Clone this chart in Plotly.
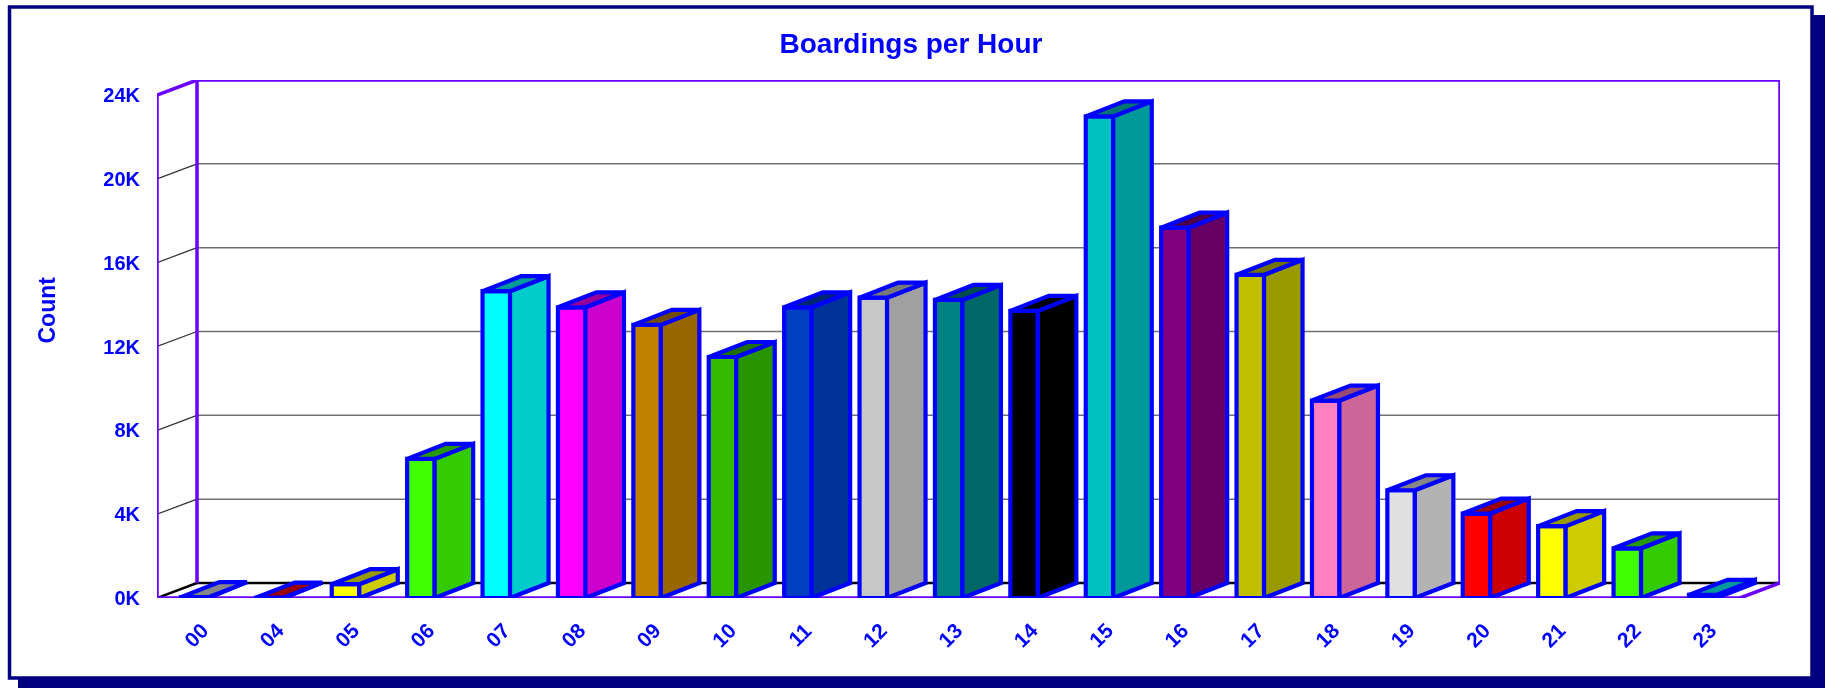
import plotly.graph_objects as go

hours = ["00","04","05","06","07","08","09","10","11","12","13","14","15","16","17","18","19","20","21","22","23"]
counts = [40, 20, 660, 6640, 14640, 13870, 13030, 11500, 13870, 14330, 14220, 13700, 22980, 17670, 15420, 9420, 5140, 4030, 3430, 2370, 150]
front_colors = ["#e0e0e0","#ff0000","#ffff00","#40ff00","#00ffff","#ff00ff","#c08000","#33bb00","#0040c0","#c8c8c8",
                "#008080","#000000","#00c0c0","#800080","#c0c000","#ff80c0","#e0e0e0","#ff0000","#ffff00","#40ff00","#00ffff"]
y_ticks = [0, 4000, 8000, 12000, 16000, 20000, 24000]
y_labels = ["0K", "4K", "8K", "12K", "16K", "20K", "24K"]

W, H = 1825, 688
L, R, T, B = 157, 1780, 80, 598          # plot area in px
BAND = 75.4                              # px per category
DX_PX, DY_PX = 40, 15                    # depth of the 3D box
PX_PER_UNIT = 503 / 24000
DX = DX_PX / BAND
DY = DY_PX / PX_PER_UNIT
X0 = -0.5
X_END = X0 + (R - L) / BAND
Y_END = 24000 + DY
BAR_W = 27.5 / BAND
BAR_DX = 38.5 / BAND
BAR_OFF = 0.0
EDGE = 4.2
BLUE = "#0000ff"
PURPLE = "#6a00ff"
NAVY = "#000080"


def shade(c, f):
    r, g, b = int(c[1:3], 16), int(c[3:5], 16), int(c[5:7], 16)
    return "rgb(%d,%d,%d)" % (r * f, g * f, b * f)


def px(x):
    return (x - L) / (R - L)


def py(y):
    return (B - y) / (B - T)


shapes = []


def page_rect(x0, y0, x1, y1, fill=None, line=None, lw=0):
    shapes.append(dict(type="rect", xref="paper", yref="paper", layer="below",
                       x0=px(x0), x1=px(x1), y0=py(y0), y1=py(y1),
                       fillcolor=fill or "rgba(0,0,0,0)",
                       line=dict(color=line or "rgba(0,0,0,0)", width=lw)))


def seg(x0, y0, x1, y1, color, width):
    shapes.append(dict(type="line", xref="x", yref="y", layer="below", x0=x0, y0=y0, x1=x1, y1=y1,
                       line=dict(color=color, width=width)))


# page frame with drop shadow
page_rect(18, 15, 1825, 688, fill=NAVY)
page_rect(9.5, 7, 1812, 678, fill="#ffffff", line=NAVY, lw=3.5)

XF = X_END - DX  # right end of the front floor edge
XB = X0 + DX     # left end of the back wall

# grid lines
for v in y_ticks[1:-1]:
    seg(X0, v, XB, v + DY, "#303030", 1.2)
    seg(XB, v + DY, X_END, v + DY, "#707070", 1.5)
seg(X0, 0, XB, DY, "#000000", 2.5)
seg(XB, DY, X_END, DY, "#000000", 2.5)

# frame
for a in [(X0, 0, X0, 24000), (XB, DY, XB, Y_END), (X0, 24000, XB, Y_END), (XB, Y_END, X_END, Y_END),
          (X_END, Y_END, X_END, DY), (X_END, DY, XF, 0), (XF, 0, X0, 0)]:
    seg(*a, PURPLE, 3.5)

fig = go.Figure()
idx = list(range(len(hours)))

fig.add_trace(go.Bar(x=[i + BAR_OFF for i in idx], y=counts, width=BAR_W,
                     marker=dict(color=front_colors, line=dict(color=BLUE, width=EDGE)),
                     cliponaxis=False, hoverinfo="y", showlegend=False))

for i, v, c in zip(idx, counts, front_colors):
    a = i + BAR_OFF - BAR_W / 2
    b = i + BAR_OFF + BAR_W / 2
    fig.add_trace(go.Scatter(x=[b, b + BAR_DX, b + BAR_DX, b, b], y=[0, DY, v + DY, v, 0],
                             mode="lines", fill="toself", fillcolor=shade(c, 0.8),
                             line=dict(color=BLUE, width=EDGE), cliponaxis=False,
                             hoverinfo="skip", showlegend=False))
    fig.add_trace(go.Scatter(x=[a, a + BAR_DX, b + BAR_DX, b, a], y=[v, v + DY, v + DY, v, v],
                             mode="lines", fill="toself", fillcolor=shade(c, 0.6),
                             line=dict(color=BLUE, width=EDGE), cliponaxis=False,
                             hoverinfo="skip", showlegend=False))

font = dict(family="Liberation Sans, Arial, sans-serif", color=BLUE)
fig.update_layout(
    width=W, height=H, autosize=False,
    margin=dict(l=L, r=W - R, t=T, b=H - B, pad=0),
    paper_bgcolor="#ffffff", plot_bgcolor="rgba(0,0,0,0)",
    showlegend=False, shapes=shapes,
    title=dict(text="<b>Boardings per Hour</b>", x=911 / W, xanchor="center", y=1 - 43 / H, yanchor="middle",
               font=dict(size=28, **font)),
    xaxis=dict(range=[X0, X_END], tickmode="array", tickvals=[i + 0.1 for i in idx], ticktext=["<b>%s</b>" % h for h in hours],
               tickangle=-45, ticks="outside", ticklen=11, tickcolor="rgba(0,0,0,0)", showgrid=False, zeroline=False,
               showline=False, tickfont=dict(size=21, **font)),
    yaxis=dict(range=[0, Y_END], tickmode="array", tickvals=y_ticks, ticktext=["<b>%s</b>" % t for t in y_labels],
               ticks="outside", ticklen=12, tickcolor="rgba(0,0,0,0)", showgrid=False, zeroline=False,
               showline=False, tickfont=dict(size=20, **font)),
    annotations=[dict(text="<b>Count</b>", xref="paper", yref="paper", x=px(46.5), y=py(310), xanchor="center", yanchor="middle",
                      textangle=-90, showarrow=False, font=dict(size=23, **font))],
)

fig.write_html("out.html", config={"displayModeBar": False},
               post_script="document.body.style.margin='0';document.body.style.overflow='hidden';document.body.style.filter='blur(0.5px)';")
